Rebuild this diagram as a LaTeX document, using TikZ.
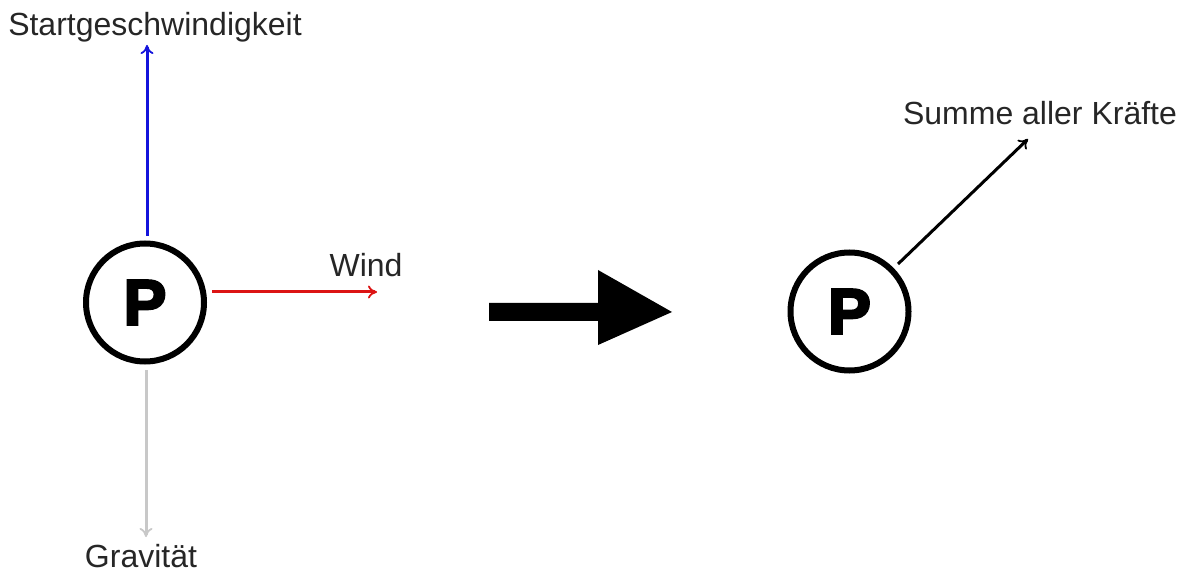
\documentclass[tikz,border=0pt]{standalone}
\usepackage{fontspec}
\setmainfont{Liberation Sans}
\newfontfamily\heavyfont[FakeBold=4]{Liberation Sans Bold}
\usetikzlibrary{arrows.meta}
\definecolor{vblue}{RGB}{20,20,220}
\definecolor{vred}{RGB}{220,20,20}
\definecolor{vgray}{RGB}{200,200,200}
\tikzset{
  particle/.style={circle, draw=black, line width=6pt, minimum size=118pt, inner sep=0pt,
    font=\heavyfont\fontsize{64}{64}\selectfont},
  vec/.style={line width=3pt, -{To[length=9pt,width=13pt,line width=1.8pt]}},
  lbl/.style={font=\fontsize{32}{36}\selectfont, text=black!85, inner sep=0pt}
}
\begin{document}
\begin{tikzpicture}[x=1pt,y=-1pt]
  \useasboundingbox (0,0) rectangle (1186,577);
  % before: particle with its three forces
  \node[particle] (p1) at (145,302.5) {P};
  \node[lbl] (start) at (155,27) {Startgeschwindigkeit};
  \node[lbl] (wind) at (366,265) {Wind};
  \node[lbl] (grav) at (141,556) {Gravität};
  \coordinate (vtop) at (147,45);
  \coordinate (vright) at (377,292);
  \coordinate (vdown) at (146,537);
  \draw[vec, vblue] (147,236) -- (vtop);
  \draw[vec, vred] (212,292) -- (vright);
  \draw[vec, vgray] (146,370) -- (vdown);
  % transition arrow
  \fill[black] (489,303) -- (598,303) -- (598,270) -- (672,312) -- (598,345) -- (598,321) -- (489,321) -- cycle;
  % after: resulting force
  \node[particle] (p2) at (849.5,311.5) {P};
  \node[lbl] (sum) at (1040,113) {Summe aller Kräfte};
  \coordinate (vres) at (1028,139);
  \draw[vec, black] (898,264) -- (vres);
\end{tikzpicture}
\end{document}
